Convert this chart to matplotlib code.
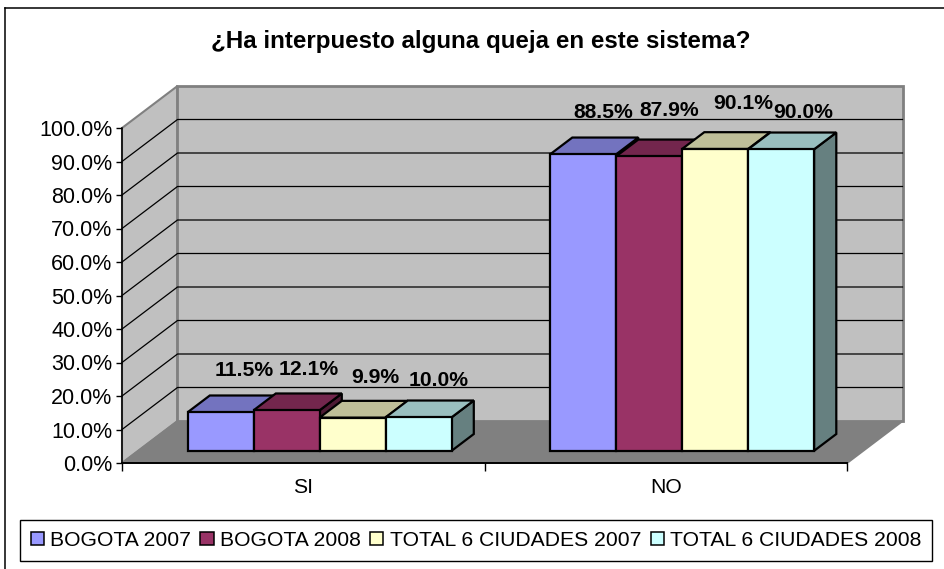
import matplotlib
matplotlib.use("Agg")
import matplotlib.pyplot as plt
from matplotlib.patches import Polygon, Patch
from matplotlib.lines import Line2D

plt.rcParams['font.family'] = ['Liberation Sans', 'DejaVu Sans']

W, H = 945, 569

# Data
categories = ["SI", "NO"]
series_names = ["BOGOTA 2007", "BOGOTA 2008", "TOTAL 6 CIUDADES 2007", "TOTAL 6 CIUDADES 2008"]
bogota_2007 = [11.5, 88.5]
bogota_2008 = [12.1, 87.9]
total_2007 = [9.9, 90.1]
total_2008 = [10.0, 90.0]
series_values = [bogota_2007, bogota_2008, total_2007, total_2008]
y_ticks = [0, 10, 20, 30, 40, 50, 60, 70, 80, 90, 100]

# Colours
colors = ["#9999FF", "#993366", "#FFFFCC", "#CCFFFF"]
tops = ["#7373BF", "#73264D", "#BFBF99", "#99BFBF"]
sides = ["#4D4D80", "#4D1A33", "#808066", "#668080"]

# Front plane of the chart, in pixels
left, right, top, bottom = 122, 847, 128, 463
px_x = 2 / (right - left)
px_y = 100 / (bottom - top)

DX = 55.5 * px_x
DY = 42 * px_y


def proj(x, v, d):
    # position on the depth axis, d from 0 (front) to 1 (back wall)
    return (x + d * DX, v + d * DY)


fig = plt.figure(figsize=(W / 100, H / 100), dpi=100)
fig.patch.set_facecolor("white")

# outer chart border: left and top only reach the canvas
fig.add_artist(Line2D([5.5 / W, 5.5 / W], [0, 1 - 8 / H], color="black", lw=1.1))
fig.add_artist(Line2D([5.5 / W, 1], [1 - 8 / H, 1 - 8 / H], color="black", lw=1.1))

ax = fig.add_axes([left / W, 1 - bottom / H, (right - left) / W, (bottom - top) / H])
ax.set_xlim(0, 2)
ax.set_ylim(0, 100)
ax.patch.set_visible(False)
for s in ["top", "right"]:
    ax.spines[s].set_visible(False)
ax.spines["left"].set_linewidth(1.1)
ax.spines["bottom"].set_linewidth(1.4)

# Walls and floor
ax.add_patch(Polygon([proj(0, 0, 0), proj(2, 0, 0), proj(2, 0, 1), proj(0, 0, 1)],
                     facecolor="#808080", edgecolor="none", zorder=1, clip_on=False))
ax.add_patch(Polygon([proj(0, 0, 0), proj(0, 0, 1), proj(0, 100, 1), proj(0, 100, 0)],
                     facecolor="#C0C0C0", edgecolor="#808080", lw=1.5, zorder=1, clip_on=False))
ax.add_patch(Polygon([proj(0, 0, 1), proj(2, 0, 1), proj(2, 100, 1), proj(0, 100, 1)],
                     facecolor="#C0C0C0", edgecolor="#808080", lw=2, zorder=1.1, clip_on=False))
for t in y_ticks[1:-1]:
    ax.plot(*zip(proj(0, t, 0), proj(0, t, 1), proj(2, t, 1)), color="black", lw=0.9, zorder=1.5, clip_on=False)
ax.plot(*zip(proj(0, 0, 0), proj(0, 0, 1)), color="#808080", lw=1, zorder=1.5, clip_on=False)
ax.plot(*zip(proj(2, 0, 0), proj(2, 0, 1)), color="#808080", lw=1.5, zorder=1.5, clip_on=False)

# Bars
bar_w = 66 * px_x
gap = 49.5 * px_x
d0, d1 = 0.29, 0.69
label_dx = [[24, 22, 23, 20], [20, 20, 28, 22]]
label_dy = [[36, 35, 35, 31], [36, 40, 40, 31]]

z = 3
for c in range(len(categories)):
    for i, vals in enumerate(series_values):
        v = vals[c]
        x0 = c + gap + i * bar_w
        x1 = x0 + bar_w
        front = [proj(x0, 0, d0), proj(x1, 0, d0), proj(x1, v, d0), proj(x0, v, d0)]
        roof = [proj(x0, v, d0), proj(x1, v, d0), proj(x1, v, d1), proj(x0, v, d1)]
        side = [proj(x1, 0, d0), proj(x1, 0, d1), proj(x1, v, d1), proj(x1, v, d0)]
        ax.add_patch(Polygon(side, facecolor=sides[i], edgecolor="black", lw=1.6, zorder=z, clip_on=False))
        ax.add_patch(Polygon(roof, facecolor=tops[i], edgecolor="black", lw=1.6, zorder=z, clip_on=False))
        ax.add_patch(Polygon(front, facecolor=colors[i], edgecolor="black", lw=1.6, zorder=z, clip_on=False))
        z += 1
        lx, ly = proj((x0 + x1) / 2, v, d0)
        ax.annotate(f"{v:.1f}%", (lx, ly), xytext=(label_dx[c][i] * 0.72, label_dy[c][i] * 0.72),
                    textcoords="offset points", ha="center", va="baseline", fontsize=15.2,
                    fontweight="bold", color="black", zorder=20, annotation_clip=False)

# Axes ticks
ax.set_yticks(y_ticks)
ax.set_yticklabels([f"{t:.1f}%" for t in y_ticks], fontsize=15.5)
ax.tick_params(axis="y", length=4, width=1, pad=3)
ax.set_xticks([0, 1, 2])
ax.set_xticklabels([])
ax.tick_params(axis="x", which="major", length=6, width=1)
ax.set_xticks([0.5, 1.5], minor=True)
ax.set_xticklabels(categories, minor=True, fontsize=15.2)
ax.tick_params(axis="x", which="minor", length=0, pad=11)

fig.text(481 / W, 1 - 48 / H, "¿Ha interpuesto alguna queja en este sistema?", ha="center", va="baseline",
         fontsize=17.4, fontweight="bold")

handles = [Patch(facecolor=c, edgecolor="black", lw=1.1) for c in colors]
leg = fig.legend(handles, series_names, ncol=4, loc="center", bbox_to_anchor=(476 / W, 1 - 540.5 / H),
                 frameon=True, fancybox=False, edgecolor="black", framealpha=1, fontsize=15.2,
                 handlelength=0.62, handleheight=0.62, handletextpad=0.3, columnspacing=0.45,
                 borderpad=0.5, borderaxespad=0)
leg.get_frame().set_linewidth(1.0)

fig.savefig("out.png", dpi=100)
